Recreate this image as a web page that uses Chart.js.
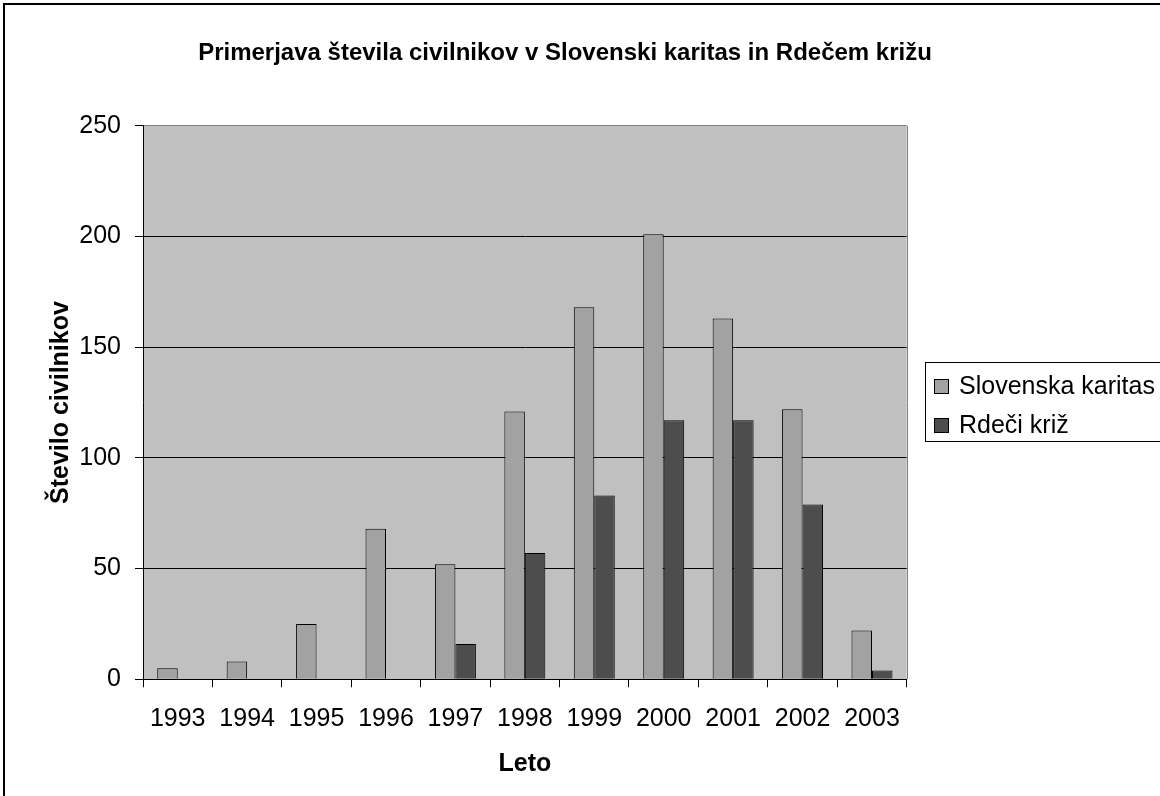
<!DOCTYPE html>
<html>
<head>
<meta charset="utf-8">
<title>Primerjava števila civilnikov</title>
<script src="https://cdn.jsdelivr.net/npm/chart.js@4.4.0/dist/chart.umd.min.js"></script>
<style>
    body { margin: 0; background: #fff; }
    #chartWrap { width: 1160px; height: 796px; }
</style>
</head>
<body>
<div id="chartWrap">
    <canvas id="civilChart" width="1160" height="796"></canvas>
</div>
<script>
// Data
const years = ['1993', '1994', '1995', '1996', '1997', '1998', '1999', '2000', '2001', '2002', '2003'];
const karitas = [5, 8, 25, 68, 52, 121, 168, 201, 163, 122, 22];
const rdeciKriz = [null, null, null, null, 16, 57, 83, 117, 117, 79, 4];
const yTicks = [0, 50, 100, 150, 200, 250];

const FONT = '"Liberation Sans", Arial, sans-serif';

// grey plot area + white page + outer frame
const backgroundPlugin = {
    id: 'backgroundPlugin',
    beforeDraw(chart) {
        const ctx = chart.ctx;
        const a = chart.chartArea;
        ctx.save();
        ctx.fillStyle = '#ffffff';
        ctx.fillRect(0, 0, chart.width, chart.height);
        ctx.fillStyle = '#c0c0c0';
        ctx.fillRect(a.left, a.top, a.right - a.left, a.bottom - a.top);
        ctx.restore();
    },
    afterDraw(chart) {
        const ctx = chart.ctx;
        const a = chart.chartArea;
        ctx.save();
        // right edge of the plot area
        ctx.strokeStyle = '#808080';
        ctx.lineWidth = 1;
        ctx.beginPath();
        ctx.moveTo(Math.round(a.right) + 0.5, a.top);
        ctx.lineTo(Math.round(a.right) + 0.5, a.bottom);
        ctx.stroke();
        // chart frame (left and top edges visible)
        ctx.strokeStyle = '#000000';
        ctx.lineWidth = 2;
        ctx.beginPath();
        ctx.moveTo(4, chart.height + 2);
        ctx.lineTo(4, 4);
        ctx.lineTo(chart.width + 2, 4);
        ctx.stroke();
        ctx.restore();
    }
};

// legend box on the right, cut by the page edge as in the original
const boxLegend = {
    id: 'boxLegend',
    afterDraw(chart) {
        const ctx = chart.ctx;
        const x = 925, y = 362, rowH = 39;
        ctx.save();
        ctx.fillStyle = '#ffffff';
        ctx.fillRect(x, y, 260, 79);
        ctx.strokeStyle = '#000000';
        ctx.lineWidth = 1;
        ctx.strokeRect(x + 0.5, y + 0.5, 260, 79);
        ctx.font = '25px ' + FONT;
        ctx.textBaseline = 'alphabetic';
        chart.data.datasets.forEach((ds, i) => {
            const base = y + 32 + i * rowH;
            ctx.fillStyle = ds.backgroundColor;
            ctx.fillRect(x + 10, base - 14, 13, 13);
            ctx.strokeStyle = '#000000';
            ctx.strokeRect(x + 9.5, base - 14.5, 14, 14);
            ctx.fillStyle = '#000000';
            ctx.fillText(ds.label, x + 34, base);
        });
        ctx.restore();
    }
};

const ctx = document.getElementById('civilChart').getContext('2d');

const civilChart = new Chart(ctx, {
    type: 'bar',
    data: {
        labels: years,
        datasets: [{
            label: 'Slovenska karitas',
            data: karitas,
            backgroundColor: '#a2a2a2',
            borderColor: '#000000',
            borderWidth: 1,
            barPercentage: 1.0,
            categoryPercentage: 0.59
        }, {
            label: 'Rdeči križ',
            data: rdeciKriz,
            backgroundColor: '#4d4d4d',
            borderColor: '#000000',
            borderWidth: 1,
            barPercentage: 1.0,
            categoryPercentage: 0.59
        }]
    },
    options: {
        responsive: false,
        animation: false,
        devicePixelRatio: 1,
        layout: {
            padding: { left: 0, right: 30, top: 0, bottom: 0 }
        },
        plugins: {
            legend: { display: false },
            tooltip: { enabled: false },
            title: {
                display: true,
                text: 'Primerjava števila civilnikov v Slovenski karitas in Rdečem križu',
                color: '#000000',
                font: { family: FONT, size: 24, weight: 'bold' },
                padding: { top: 39, bottom: 58 }
            }
        },
        scales: {
            x: {
                grid: {
                    display: true,
                    drawOnChartArea: false,
                    drawTicks: true,
                    tickLength: 8,
                    tickColor: '#000000',
                    offset: true
                },
                border: { display: true, color: '#000000', width: 1 },
                ticks: {
                    color: '#000000',
                    font: { family: FONT, size: 25 },
                    padding: 17,
                    maxRotation: 0,
                    autoSkip: false
                },
                title: {
                    display: true,
                    text: 'Leto',
                    color: '#000000',
                    font: { family: FONT, size: 25, weight: 'bold' },
                    padding: { top: 0, bottom: 17 }
                },
                afterFit(scale) {
                    scale.height = 116.7;
                }
            },
            y: {
                min: 0,
                max: 250,
                grid: {
                    color: (c) => (c.tick && c.tick.value === 250 ? '#808080' : '#000000'),
                    tickColor: '#000000',
                    tickLength: 8,
                    lineWidth: 1
                },
                border: { display: true, color: '#000000', width: 1 },
                afterBuildTicks(scale) {
                    scale.ticks = yTicks.map(v => ({ value: v }));
                },
                ticks: {
                    color: '#000000',
                    font: { family: FONT, size: 25 },
                    padding: 14
                },
                title: {
                    display: true,
                    text: 'Število civilnikov',
                    color: '#000000',
                    font: { family: FONT, size: 25, weight: 'bold' },
                    padding: { top: 46, bottom: 0 }
                },
                afterFit(scale) {
                    scale.width = 143;
                }
            },
            // empty right-hand box that leaves room for the legend
            side: {
                type: 'linear',
                position: 'right',
                display: true,
                grid: { display: false },
                border: { display: false },
                ticks: { display: false },
                afterFit(scale) {
                    scale.width = 223.3;
                }
            }
        }
    },
    plugins: [backgroundPlugin, boxLegend]
});
</script>
</body>
</html>
